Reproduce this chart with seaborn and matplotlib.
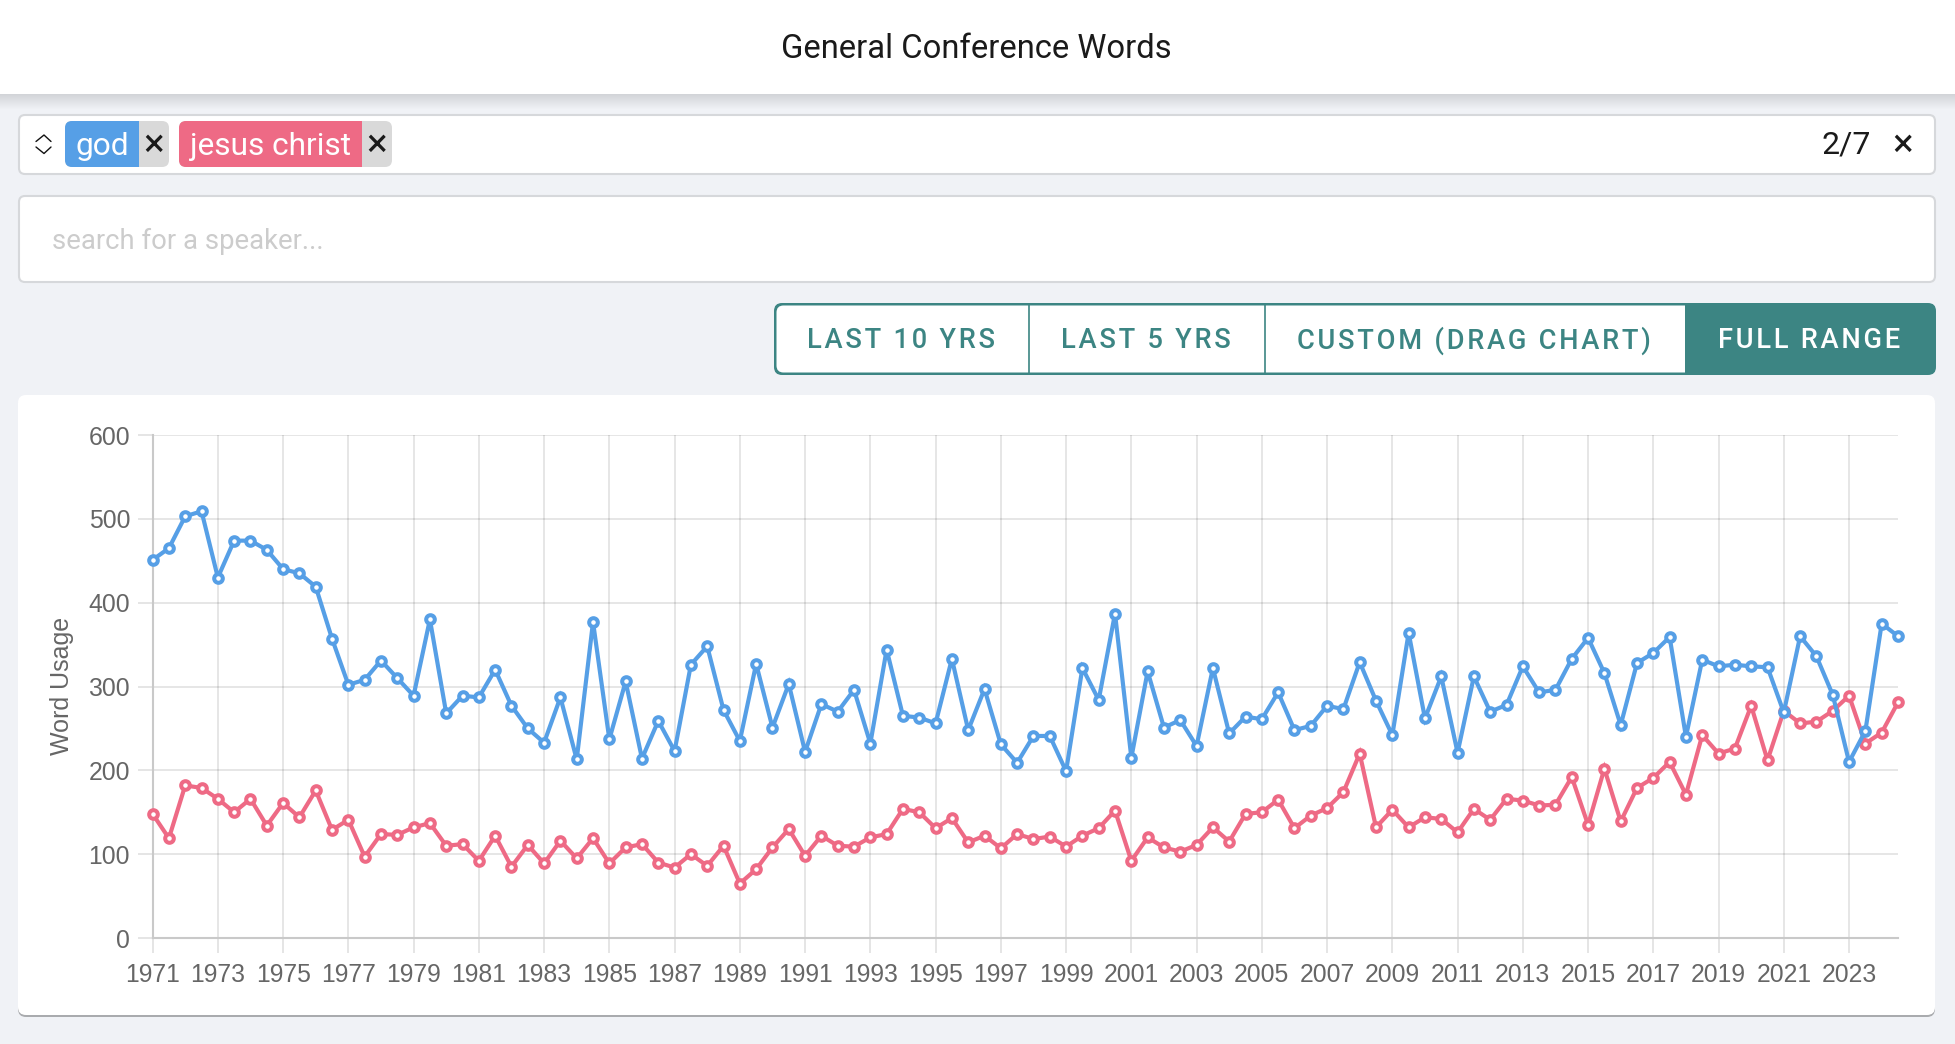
import numpy as np
import pandas as pd
import seaborn as sns
import matplotlib.pyplot as plt
from matplotlib.patches import FancyBboxPatch, Rectangle

# DATA

YEARS = np.arange(1971, 2025, 0.5)

GOD = [
    451, 465, 503, 509, 430, 474, 474, 463, 440, 435, 419, 357,
    302, 308, 331, 310, 289, 380, 268, 289, 287, 320, 277, 250,
    233, 287, 213, 377, 237, 306, 214, 259, 223, 326, 348, 272,
    235, 327, 251, 303, 222, 279, 270, 296, 232, 344, 265, 263,
    256, 333, 248, 297, 231, 209, 241, 241, 199, 322, 284, 387,
    215, 318, 251, 260, 229, 322, 244, 264, 261, 293, 248, 253,
    277, 273, 329, 283, 242, 364, 262, 312, 221, 312, 270, 278,
    324, 293, 296, 333, 358, 316, 254, 328, 340, 359, 240, 332,
    324, 326, 324, 323, 269, 360, 336, 290, 210, 247, 375, 360,
]

JESUS_CHRIST = [
    148, 119, 182, 179, 166, 150, 166, 134, 161, 144, 176, 129,
    141, 97, 124, 123, 132, 137, 110, 112, 92, 122, 85, 111,
    89, 116, 95, 119, 89, 108, 112, 90, 84, 100, 86, 110,
    65, 82, 108, 130, 98, 122, 110, 109, 120, 124, 154, 150,
    131, 143, 114, 122, 107, 124, 118, 121, 109, 122, 131, 152,
    92, 120, 108, 103, 111, 132, 115, 148, 150, 165, 131, 146,
    155, 174, 220, 132, 153, 132, 144, 142, 126, 154, 141, 166,
    164, 158, 159, 192, 135, 202, 139, 179, 191, 210, 171, 242,
    220, 226, 277, 212, 271, 256, 258, 271, 289, 232, 245, 281,
]

TICK_YEARS = list(range(1971, 2024, 2))
Y_TICKS = [0, 100, 200, 300, 400, 500, 600]
WORDS = ["jesus christ", "god"]
RANGE_BUTTONS = ["LAST 10 YRS", "LAST 5 YRS", "CUSTOM (DRAG CHART)"]

BLUE = "#569fe6"
PINK = "#ee6a85"
TEAL = "#3c8583"
PAGE = "#f0f2f6"
BORDER = "#d6d8db"
GREY_TAG = "#d9d9d9"
TEXT_UI = "#1a1a1a"
TICK_TEXT = "#666666"

W, H = 1956, 1044

sns.set_theme(style="white")
plt.rcParams["font.family"] = ["Roboto", "DejaVu Sans"]

df = pd.DataFrame({
    "year": np.concatenate([YEARS, YEARS]),
    "usage": JESUS_CHRIST + GOD,
    "word": ["jesus christ"] * len(JESUS_CHRIST) + ["god"] * len(GOD),
})

fig = plt.figure(figsize=(W / 100, H / 100), dpi=100, facecolor=PAGE)

# PAGE CHROME (pixel coordinates)

ui = fig.add_axes([0, 0, 1, 1])
ui.set_xlim(0, W)
ui.set_ylim(H, 0)
ui.axis("off")


def box(x0, y0, x1, y1, color, edge="none", lw=0, r=5, z=2):
    p = FancyBboxPatch((x0 + r, y0 + r), x1 - x0 - 2 * r, y1 - y0 - 2 * r,
                       boxstyle=f"round,pad={r},rounding_size={r}",
                       fc=color, ec=edge, lw=lw, zorder=z)
    ui.add_patch(p)


def rect(x0, y0, x1, y1, color, alpha=1, z=2):
    ui.add_patch(Rectangle((x0, y0), x1 - x0, y1 - y0, fc=color, ec="none", alpha=alpha, zorder=z))


def spaced(label):
    # letter spacing of the buttons
    return "\u200a".join(label)


# header + shadow
for i in range(16):
    rect(0, 94, W, 94 + i, "#000000", alpha=0.007, z=1)
rect(0, 0, W, 94, "white", z=2)
ui.text(976, 49, "General Conference Words", ha="center", va="center", fontsize=23.6, color=TEXT_UI, zorder=3)

# tag box
box(19, 115, 1935, 174, "white", BORDER, 1.5, r=6)
ui.plot([36, 44, 51], [141.5, 135, 141.5], color="#111111", lw=1, zorder=3)
ui.plot([36, 44, 51], [147, 153.5, 147], color="#111111", lw=1, zorder=3)


def tag(x0, x_split, x1, label, color):
    box(x0, 121, x1, 167, GREY_TAG, r=7, z=2)
    box(x0, 121, x_split, 167, color, r=7, z=3)
    rect(x_split - 10, 121, x_split, 167, color, z=3)
    ui.text((x0 + x_split) / 2, 155, label, ha="center", va="baseline", fontsize=22.8, color="white", zorder=4)
    ui.text((x_split + x1) / 2, 145, "×", ha="center", va="center", fontsize=28, color=TEXT_UI, zorder=4)


tag(65, 139, 169, "god", BLUE)
tag(179, 362, 392, "jesus christ", PINK)
ui.text(1846, 145, "2/7", ha="center", va="center", fontsize=23, color=TEXT_UI, zorder=3)
ui.text(1903, 145, "×", ha="center", va="center", fontsize=28, color=TEXT_UI, zorder=3)

# search box
box(19, 196, 1935, 282, "white", BORDER, 1.5, r=6)
ui.text(52, 241, "search for a speaker...", ha="left", va="center", fontsize=19.8, color="#cccccc", zorder=3)

# range buttons
box(774, 303, 1936, 375, TEAL, r=8, z=2)
box(776.5, 305.5, 1700, 372.5, "white", r=7, z=3)
rect(1685, 304, 1702, 374, TEAL, z=3)
for x in [1029, 1265]:
    ui.plot([x, x], [305, 373], color=TEAL, lw=1.2, zorder=4)
for x, label in zip([901, 1146, 1474], RANGE_BUTTONS):
    ui.text(x, 348.5, spaced(label), ha="center", va="baseline", fontsize=19.6, fontweight="medium", color=TEAL, zorder=5)
ui.text(1809, 348.5, spaced("FULL RANGE"), ha="center", va="baseline", fontsize=19.6, fontweight="medium", color="white", zorder=5)

# chart card + shadow
box(18, 398, 1935, 1017, "#a9abae", r=8, z=1)
box(18, 395, 1935, 1015, "white", r=8, z=2)

# CHART

ax = fig.add_axes([152.6 / W, 1 - 938 / H, (1898 - 152.6) / W, (938 - 435) / H])
ax.patch.set_alpha(0)

sns.lineplot(
    data=df, x="year", y="usage", hue="word", hue_order=WORDS,
    palette={"god": BLUE, "jesus christ": PINK},
    marker="o", markersize=6.2, linewidth=3, legend=False, ax=ax, clip_on=False, zorder=5,
)
for line in ax.get_lines():
    line.set_markeredgecolor(line.get_color())
    line.set_markerfacecolor("white")
    line.set_markeredgewidth(2.9)
    line.set_solid_joinstyle("miter")

ax.set_xlim(1971, 2024.5)
ax.set_ylim(0, 600)
ax.set_xticks(TICK_YEARS)
ax.set_xticklabels([str(y) for y in TICK_YEARS])
ax.set_yticks(Y_TICKS)
ax.grid(True, color="black", alpha=0.1, lw=1.4)
ax.set_axisbelow(True)

for s in ["top", "right"]:
    ax.spines[s].set_visible(False)
for s in ["left", "bottom"]:
    ax.spines[s].set_color("#c9c9c9")
    ax.spines[s].set_linewidth(1.5)

ax.tick_params(axis="x", length=10.8, width=1.4, color="#e5e5e5", pad=7.5, labelsize=17.8,
               labelcolor=TICK_TEXT, bottom=True)
ax.tick_params(axis="y", length=10.8, width=1.4, color="#e5e5e5", pad=5.4, labelsize=17.8,
               labelcolor=TICK_TEXT, left=True)
for t in ax.get_xticklabels() + ax.get_yticklabels():
    t.set_family("Liberation Sans")

ax.set_xlabel("")
ax.set_ylabel("")
ui.text(62, 686, "Word Usage", rotation=90, ha="center", va="center", fontsize=18,
        color=TICK_TEXT, family="Liberation Sans", zorder=3)

fig.savefig("out.png", dpi=100, facecolor=PAGE)
